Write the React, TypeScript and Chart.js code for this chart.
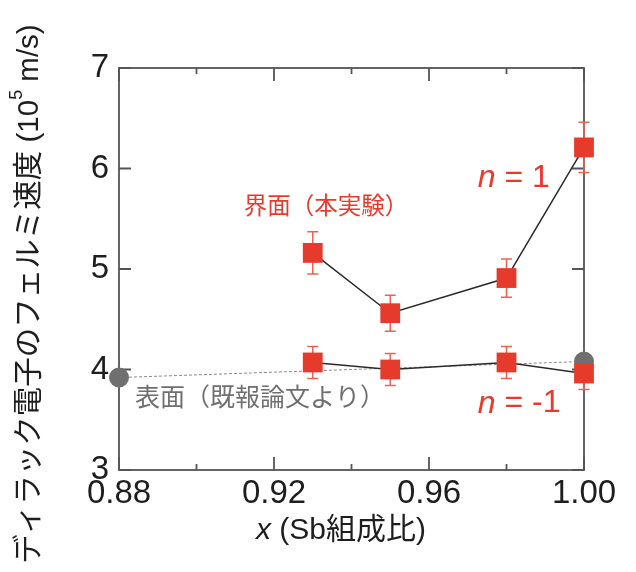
import React, { useEffect, useRef } from 'react';
import { Chart, registerables } from 'chart.js';

Chart.register(...registerables);

// ---- data ----
const xMajorTicks = [0.88, 0.92, 0.96, 1.0];
const xMinorTicks = [0.9, 0.94, 0.98];
const yMajorTicks = [3, 4, 5, 6, 7];

const xValues = [0.93, 0.95, 0.98, 1.0];
const n1Values = [5.16, 4.56, 4.91, 6.21];
const n1Errors = [0.21, 0.18, 0.19, 0.25];
const nm1Values = [4.07, 4.0, 4.07, 3.96];
const nm1Errors = [0.16, 0.16, 0.16, 0.16];

const surfaceX = [0.88, 1.0];
const surfaceValues = [3.92, 4.08];

const xTitleMain = ' (Sb組成比)';
const yTitleMain = 'ディラック電子のフェルミ速度 (10';
const yTitleSup = '5';
const yTitleEnd = ' m/s)';
const interfaceLabel = '界面（本実験）';
const surfaceLabel = '表面（既報論文より）';

// ---- styles ----
const RED = '#e63a2c';
const ERR = '#ec6450';
const GRAY = '#6f6f6f';
const FRAME = '#555555';
const TEXT = '#1e1e1e';
const FONT = "'Liberation Sans', Arial, 'Noto Sans CJK JP', sans-serif";

const W = 636;
const H = 572;

const decorPlugin = {
  id: 'decor',
  beforeDatasetsDraw(chart: any) {
    const ctx = chart.ctx;
    const xs = chart.scales.x;
    const ys = chart.scales.y;
    const a = chart.chartArea;
    ctx.save();
    // frame
    ctx.strokeStyle = FRAME;
    ctx.lineWidth = 1.8;
    ctx.strokeRect(a.left, a.top, a.right - a.left, a.bottom - a.top);
    // inward ticks
    const drawX = (v: number, len: number) => {
      const px = xs.getPixelForValue(v);
      ctx.beginPath();
      ctx.moveTo(px, a.bottom);
      ctx.lineTo(px, a.bottom - len);
      ctx.moveTo(px, a.top);
      ctx.lineTo(px, a.top + len);
      ctx.stroke();
    };
    xMajorTicks.forEach((v) => drawX(v, 13));
    xMinorTicks.forEach((v) => drawX(v, 6));
    yMajorTicks.forEach((v) => {
      const py = ys.getPixelForValue(v);
      ctx.beginPath();
      ctx.moveTo(a.left, py);
      ctx.lineTo(a.left + 12, py);
      ctx.moveTo(a.right, py);
      ctx.lineTo(a.right - 12, py);
      ctx.stroke();
    });
    // error bars
    ctx.strokeStyle = ERR;
    ctx.lineWidth = 1.5;
    const drawErr = (vals: number[], errs: number[]) => {
      vals.forEach((v, i) => {
        const px = xs.getPixelForValue(xValues[i]);
        const top = ys.getPixelForValue(v + errs[i]);
        const bot = ys.getPixelForValue(v - errs[i]);
        ctx.beginPath();
        ctx.moveTo(px, top);
        ctx.lineTo(px, bot);
        ctx.moveTo(px - 5.5, top);
        ctx.lineTo(px + 5.5, top);
        ctx.moveTo(px - 5.5, bot);
        ctx.lineTo(px + 5.5, bot);
        ctx.stroke();
      });
    };
    drawErr(n1Values, n1Errors);
    drawErr(nm1Values, nm1Errors);
    ctx.restore();
  },
  afterDraw(chart: any) {
    const ctx = chart.ctx;
    const xs = chart.scales.x;
    const ys = chart.scales.y;
    ctx.save();
    ctx.textBaseline = 'middle';

    // x title with italic x
    {
      const f1 = `italic 30px ${FONT}`;
      const f2 = `30px ${FONT}`;
      ctx.font = f1;
      const w1 = ctx.measureText('x').width;
      ctx.font = f2;
      const w2 = ctx.measureText(xTitleMain).width;
      const cx = 341;
      const cy = 531;
      const x0 = cx - (w1 + w2) / 2;
      ctx.fillStyle = TEXT;
      ctx.textAlign = 'left';
      ctx.font = f1;
      ctx.fillText('x', x0, cy);
      ctx.font = f2;
      ctx.fillText(xTitleMain, x0 + w1, cy);
    }

    // y title rotated, with superscript
    {
      const fMain = `29.5px ${FONT}`;
      const fSup = `18px ${FONT}`;
      ctx.font = fMain;
      const w1 = ctx.measureText(yTitleMain).width;
      const w3 = ctx.measureText(yTitleEnd).width;
      ctx.font = fSup;
      const w2 = ctx.measureText(yTitleSup).width;
      const total = w1 + w2 + w3;
      const cx = 30;
      const cy = 294;
      ctx.translate(cx, cy);
      ctx.rotate(-Math.PI / 2);
      const x0 = -total / 2;
      ctx.fillStyle = TEXT;
      ctx.textAlign = 'left';
      ctx.font = fMain;
      ctx.fillText(yTitleMain, x0, 0);
      ctx.font = fSup;
      ctx.fillText(yTitleSup, x0 + w1, -13);
      ctx.font = fMain;
      ctx.fillText(yTitleEnd, x0 + w1 + w2, 0);
      ctx.setTransform(1, 0, 0, 1, 0, 0);
    }

    // annotations
    ctx.textAlign = 'left';
    ctx.fillStyle = RED;
    ctx.font = `23.5px ${FONT}`;
    {
      const w = ctx.measureText(interfaceLabel).width;
      ctx.fillText(interfaceLabel, xs.getPixelForValue(0.9334) - w / 2, ys.getPixelForValue(5.61));
    }
    ctx.fillStyle = GRAY;
    ctx.font = `25px ${FONT}`;
    ctx.fillText(surfaceLabel, xs.getPixelForValue(0.8841), ys.getPixelForValue(3.71));

    const drawN = (rest: string, xv: number, yv: number) => {
      const px = xs.getPixelForValue(xv);
      const py = ys.getPixelForValue(yv);
      ctx.fillStyle = RED;
      ctx.font = `italic 32px ${FONT}`;
      ctx.fillText('n', px, py);
      const wn = ctx.measureText('n').width;
      ctx.font = `32px ${FONT}`;
      ctx.fillText(rest, px + wn, py);
    };
    drawN(' = 1', 0.9726, 5.9);
    drawN(' = -1', 0.9726, 3.66);
    ctx.restore();
  },
};

export default function App() {
  const ref = useRef<HTMLCanvasElement | null>(null);
  useEffect(() => {
    if (!ref.current) return;
    const chart = new Chart(ref.current, {
      type: 'scatter',
      data: {
        datasets: [
          {
            label: 'n = 1',
            data: xValues.map((x, i) => ({ x, y: n1Values[i] })),
            showLine: true,
            borderColor: '#2a2a2a',
            borderWidth: 1.5,
            pointStyle: 'rect',
            pointRadius: 14,
            pointBackgroundColor: RED,
            pointBorderColor: RED,
            pointBorderWidth: 0,
            clip: false,
            order: 1,
          },
          {
            label: 'n = -1',
            data: xValues.map((x, i) => ({ x, y: nm1Values[i] })),
            showLine: true,
            borderColor: '#2a2a2a',
            borderWidth: 1.5,
            pointStyle: 'rect',
            pointRadius: 14,
            pointBackgroundColor: RED,
            pointBorderColor: RED,
            pointBorderWidth: 0,
            clip: false,
            order: 1,
          },
          {
            label: 'surface',
            data: surfaceX.map((x, i) => ({ x, y: surfaceValues[i] })),
            showLine: true,
            borderColor: '#8a8a8a',
            borderWidth: 1,
            borderDash: [3, 2],
            pointStyle: 'circle',
            pointRadius: 10,
            pointBackgroundColor: GRAY,
            pointBorderColor: GRAY,
            pointBorderWidth: 0,
            clip: false,
            order: 2,
          },
        ],
      },
      options: {
        animation: false,
        responsive: false,
        maintainAspectRatio: false,
        layout: { padding: { top: 68, right: 52, left: 0, bottom: 0 } },
        plugins: { legend: { display: false }, tooltip: { enabled: false } },
        scales: {
          x: {
            type: 'linear',
            min: 0.88,
            max: 1.0,
            afterBuildTicks: (s: any) => {
              s.ticks = xMajorTicks.map((v) => ({ value: v }));
            },
            afterFit: (s: any) => {
              s.height = 102;
            },
            grid: { display: false },
            border: { display: false },
            ticks: {
              autoSkip: false,
              maxRotation: 0,
              padding: -4,
              color: TEXT,
              font: { family: FONT, size: 33 },
              callback: (v: any) => Number(v).toFixed(2),
            },
          },
          y: {
            type: 'linear',
            min: 3,
            max: 7,
            afterBuildTicks: (s: any) => {
              s.ticks = yMajorTicks.map((v) => ({ value: v }));
            },
            afterFit: (s: any) => {
              s.width = 119;
            },
            grid: { display: false },
            border: { display: false },
            ticks: {
              padding: 2,
              color: TEXT,
              font: { family: FONT, size: 33 },
              callback: (v: any) => String(v),
            },
          },
        },
      },
      plugins: [decorPlugin],
    });
    return () => chart.destroy();
  }, []);
  return (
    <div style={{ position: 'fixed', left: 0, top: 0, width: W, height: H, background: '#fff' }}>
      <canvas ref={ref} width={W} height={H} style={{ display: 'block', width: W, height: H }} />
    </div>
  );
}
